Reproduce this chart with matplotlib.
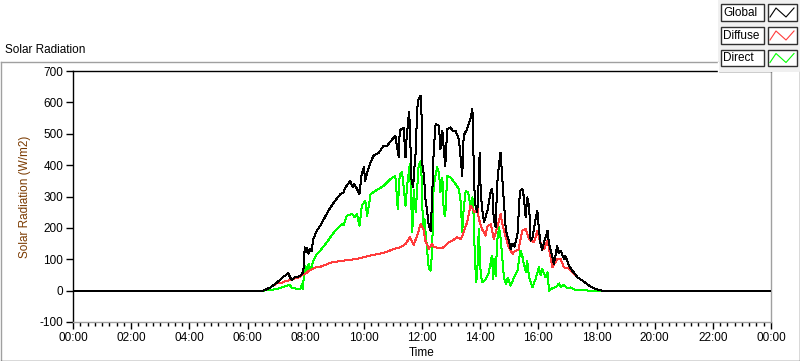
import matplotlib
matplotlib.use("Agg")
import matplotlib.pyplot as plt
from matplotlib.ticker import MultipleLocator, FuncFormatter
from matplotlib.lines import Line2D
from matplotlib.patches import Rectangle

plt.rcParams['font.family'] = ['Liberation Sans', 'DejaVu Sans']
plt.rcParams['axes.unicode_minus'] = False

# ---- data (time in minutes since midnight, values in W/m2) ----
global_t = [0, 393, 407, 421, 434, 444, 448, 452, 459, 465, 473, 476, 478, 481, 483, 486, 489,
            492, 496, 503, 510, 514, 527, 541, 552, 558, 562, 572, 577, 580, 586, 591, 595, 600,
            603, 607, 614, 620, 631, 641, 648, 665, 672, 674, 682, 686, 688, 693, 695, 698, 702,
            703, 707, 710, 713, 717, 719, 720, 724, 727, 731, 734, 738, 741, 744, 748, 755, 758,
            762, 765, 768, 772, 779, 783, 789, 796, 800, 803, 806, 813, 820, 824, 826, 829, 834,
            837, 839, 841, 844, 848, 855, 862, 865, 868, 872, 875, 879, 882, 886, 889, 893, 899,
            903, 907, 911, 917, 922, 927, 930, 934, 937, 941, 944, 948, 955, 958, 961, 965, 968,
            972, 979, 982, 989, 992, 999, 1002, 1006, 1013, 1016, 1023, 1030, 1041, 1051, 1065,
            1078, 1092, 1440]
global_v = [0, 0, 10, 26, 44, 55, 42, 35, 44, 44, 53, 74, 138, 122, 135, 118, 132,
            125, 165, 191, 207, 218, 255, 287, 308, 313, 329, 350, 329, 340, 324, 308, 366, 393,
            350, 377, 409, 430, 440, 462, 462, 494, 425, 510, 520, 425, 480, 568, 530, 356, 329,
            370, 440, 579, 611, 621, 560, 409, 366, 292, 249, 207, 191, 302, 440, 531, 525, 451,
            510, 451, 398, 515, 520, 510, 510, 483, 420, 366, 494, 515, 547, 579, 446, 281, 249,
            350, 440, 320, 260, 218, 255, 318, 324, 228, 202, 340, 403, 440, 350, 287, 191, 159,
            133, 150, 140, 180, 318, 324, 300, 233, 297, 270, 159, 170, 233, 255, 200, 143, 130,
            155, 191, 149, 106, 85, 143, 120, 127, 101, 110, 80, 64, 42, 32, 16,
            5, 0, 0]

diffuse_t = [0, 393, 407, 421, 428, 434, 448, 459, 465, 473, 481, 486, 500, 510, 534, 569, 586,
             617, 645, 662, 676, 686, 695, 703, 711, 717, 723, 727, 734, 741, 744, 756, 762, 775,
             783, 793, 800, 806, 813, 820, 824, 829, 834, 837, 844, 851, 855, 862, 868, 875, 882,
             886, 893, 899, 907, 911, 919, 927, 934, 941, 951, 958, 965, 972, 979, 989, 999, 1006,
             1013, 1023, 1030, 1041, 1051, 1065, 1078, 1092, 1440]
diffuse_v = [0, 0, 10, 24, 23, 28, 34, 40, 42, 50, 56, 62, 74, 76, 90, 98, 101,
             113, 122, 133, 138, 149, 170, 146, 180, 212, 196, 159, 133, 149, 140, 135, 135, 154,
             160, 170, 163, 186, 218, 271, 262, 249, 271, 230, 196, 175, 205, 212, 165, 200, 244,
             210, 170, 138, 117, 125, 130, 191, 196, 165, 154, 191, 149, 133, 160, 74, 101, 100,
             74, 70, 58, 42, 32, 16, 5, 0, 0]

direct_t = [0, 393, 421, 441, 447, 452, 469, 472, 474, 476, 479, 483, 486, 490, 493, 496, 503,
            510, 521, 541, 555, 558, 565, 576, 581, 586, 591, 596, 603, 607, 614, 624, 641, 655,
            665, 670, 674, 679, 686, 689, 695, 700, 703, 707, 713, 718, 720, 722, 725, 731, 734,
            738, 741, 744, 751, 755, 758, 762, 765, 768, 772, 779, 789, 796, 800, 803, 806, 810,
            815, 820, 824, 827, 829, 832, 835, 837, 841, 844, 851, 858, 864, 867, 869, 872, 875,
            879, 882, 886, 889, 893, 897, 903, 910, 917, 923, 927, 930, 934, 937, 941, 948, 955,
            961, 965, 968, 975, 979, 982, 989, 996, 1003, 1006, 1013, 1019, 1027, 1037, 1068, 1440]
direct_v = [0, 0, 5, 16, 18, 8, 5, 20, 5, 42, 80, 60, 85, 65, 80, 95, 117,
            127, 149, 191, 212, 208, 239, 244, 234, 244, 207, 271, 287, 239, 308, 318, 334, 356,
            366, 260, 370, 377, 271, 330, 404, 186, 320, 250, 398, 414, 320, 196, 230, 122, 69,
            64, 130, 334, 393, 377, 313, 360, 249, 239, 366, 361, 340, 324, 281, 186, 260, 318,
            313, 271, 297, 228, 101, 27, 90, 196, 58, 27, 35, 58, 112, 37, 100, 45, 159,
            202, 170, 96, 42, 21, 40, 16, 42, 64, 127, 110, 85, 60, 95, 42, 11, 40,
            74, 50, 68, 42, 58, 0, 8, 11, 23, 12, 18, 8, 10, 2, 0, 0]

series_names = ["Global", "Diffuse", "Direct"]
series_colors = ["#000000", "#ff3c3c", "#00ff00"]

W, H = 800, 361
fig = plt.figure(figsize=(W / 100, H / 100), dpi=100)
fig.patch.set_facecolor("white")

def fx(px):
    return px / W

def fy(py):
    return 1 - py / H

ax = fig.add_axes([fx(73), fy(322), fx(771) - fx(73), fy(71) - fy(322)])
series = list(zip([global_t, diffuse_t, direct_t], [global_v, diffuse_v, direct_v], series_colors))
# draw direct first, then diffuse, global on top
for z, (t, v, c) in zip([3, 2, 1], series):
    ax.plot(t, v, color=c, lw=0.72, antialiased=False, zorder=z)

ax.set_xlim(0, 1440)
ax.set_ylim(-100, 700)
ax.xaxis.set_major_locator(MultipleLocator(120))
ax.xaxis.set_minor_locator(MultipleLocator(15))
ax.yaxis.set_major_locator(MultipleLocator(100))
ax.xaxis.set_major_formatter(FuncFormatter(lambda v, p: "%02d:%02d" % ((int(round(v)) // 60) % 24, int(round(v)) % 60)))
ax.tick_params(axis='both', which='major', length=5, width=1, labelsize=8.5, color='black', pad=2)
ax.tick_params(axis='x', which='minor', length=3, width=1, color='black')
for s in ['top', 'left']:
    ax.spines[s].set_color('black')
for s in ['bottom', 'right']:
    ax.spines[s].set_color('#a0a0a0')
for s in ax.spines.values():
    s.set_linewidth(1.0)

ax.set_ylabel("Solar Radiation (W/m2)", color="#7a3a00", fontsize=8.5, labelpad=6)
ax.set_xlabel("Time", fontsize=8.5, labelpad=2)

# outer frame
fig.add_artist(Line2D([fx(0.5), fx(718)], [fy(61.5), fy(61.5)], color='#a0a0a0', lw=1))
fig.add_artist(Line2D([fx(0.5), fx(0.5)], [fy(61.5), fy(360.5)], color='#a0a0a0', lw=1))
fig.add_artist(Line2D([fx(0.5), fx(799.5)], [fy(360.5), fy(360.5)], color='#404040', lw=1))
fig.add_artist(Line2D([fx(799.5), fx(799.5)], [fy(72), fy(360.5)], color='#404040', lw=1))

fig.text(fx(5), fy(50), "Solar Radiation", fontsize=8.5, ha='left', va='center')

# legend panel
fig.add_artist(Rectangle((fx(718), fy(72)), fx(82), fy(0) - fy(72), transform=fig.transFigure,
                         facecolor='#f0f0f0', edgecolor='none'))
fig.add_artist(Line2D([fx(718), fx(718)], [fy(72), fy(62)], color='white', lw=1))
box_tops = [4, 27, 49.5]
for name, color, top in zip(series_names, series_colors, box_tops):
    bh = 16.5
    fig.add_artist(Rectangle((fx(720.5), fy(top + bh)), fx(43), fy(top) - fy(top + bh),
                             transform=fig.transFigure, facecolor='white', edgecolor='#303030', lw=1))
    fig.text(fx(723), fy(top + bh / 2 + 0.5), name, fontsize=8.5, ha='left', va='center')
    fig.add_artist(Rectangle((fx(767.5), fy(top + bh)), fx(29), fy(top) - fy(top + bh),
                             transform=fig.transFigure, facecolor='white', edgecolor='#303030', lw=1))
    xs = [770, 776, 786, 794]
    ys = [top + 13, top + 4, top + 13, top + 4]
    fig.add_artist(Line2D([fx(x) for x in xs], [fy(y) for y in ys], color=color, lw=0.8))

fig.savefig("out.png", dpi=100, facecolor="white")
